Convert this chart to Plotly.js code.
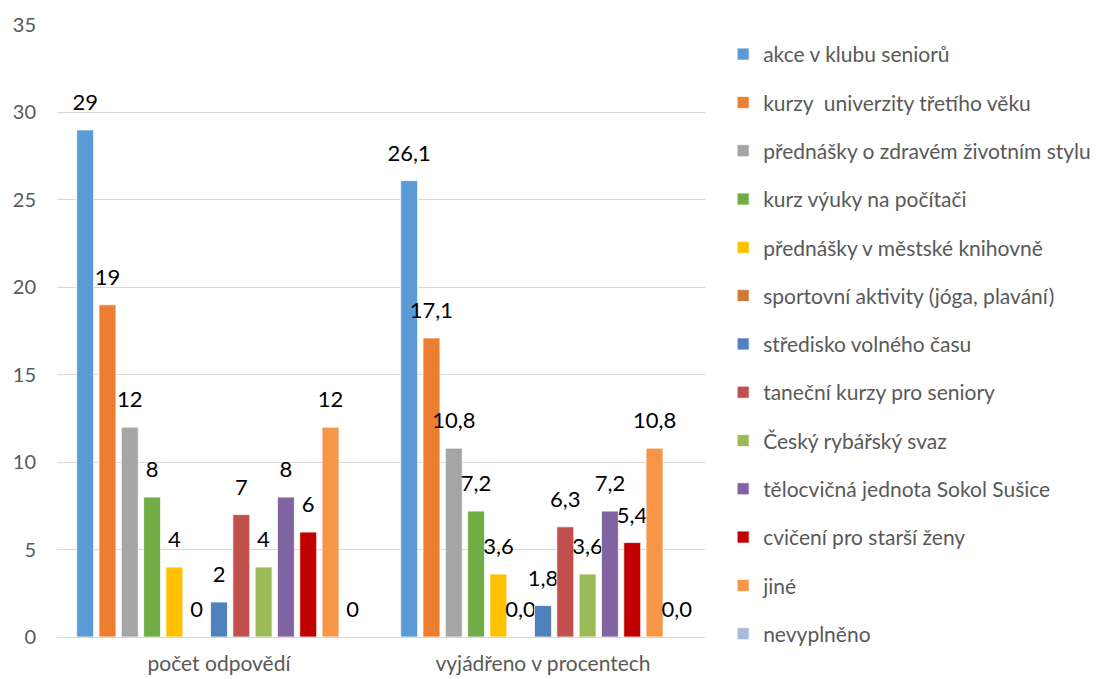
<!DOCTYPE html>
<html>
<head>
<meta charset="utf-8">
<script src="https://cdn.plot.ly/plotly-3.0.1.min.js"></script>
<style>html,body{margin:0;padding:0;background:#fff;} #chart{width:1112px;height:679px;}</style>
</head>
<body>
<div id="chart"></div>
<script>
const categories = ["počet odpovědí", "vyjádřeno v procentech"];
const seriesNames = [
  "akce v klubu seniorů",
  "kurzy  univerzity třetího věku",
  "přednášky o zdravém životním stylu",
  "kurz výuky na počítači",
  "přednášky v městské knihovně",
  "sportovní aktivity (jóga, plavání)",
  "středisko volného času",
  "taneční kurzy pro seniory",
  "Český rybářský svaz",
  "tělocvičná jednota Sokol Sušice",
  "cvičení pro starší ženy",
  "jiné",
  "nevyplněno"
];
const countValues = [29, 19, 12, 8, 4, 0, 2, 7, 4, 8, 6, 12, 0];
const percentValues = [26.1, 17.1, 10.8, 7.2, 3.6, 0.0, 1.8, 6.3, 3.6, 7.2, 5.4, 10.8, 0.0];
const colors = ["#5B9BD5", "#ED7D31", "#A5A5A5", "#70AD47", "#FFC000", "#CD7B3A",
  "#4F81BD", "#C0504D", "#9BBB59", "#8064A2", "#C00000", "#F79646", "#A9BADB"];
const yTicks = [0, 5, 10, 15, 20, 25, 30, 35];

const FONT = "Lato, 'Open Sans', sans-serif";
const traces = seriesNames.map((name, i) => ({
  type: "bar",
  name: name,
  x: categories,
  y: [countValues[i], percentValues[i]],
  text: [String(countValues[i]), percentValues[i].toFixed(1).replace(".", ",")],
  textposition: "outside",
  constraintext: "none",
  cliponaxis: false,
  textfont: {family: FONT, size: 22, color: "#000000"},
  marker: {color: colors[i], line: {color: "#ffffff", width: 0.75}},
  legendgroup: "g" + i,
  hoverinfo: "name+y"
}));

const layout = {
  width: 1112, height: 679,
  margin: {l: 57, r: 407, t: 25, b: 42, autoexpand: false},
  paper_bgcolor: "#ffffff", plot_bgcolor: "#ffffff",
  font: {family: FONT, size: 20, color: "#595959"},
  barmode: "group",
  bargap: 0.105,
  bargroupgap: 0.24,
  showlegend: true,
  legend: {
    x: 1.028, xanchor: "left",
    yref: "container", y: 0.95, yanchor: "top",
    maxheight: 1,
    traceorder: "grouped", tracegroupgap: 18,
    font: {family: FONT, size: 21, color: "#595959"},
    itemwidth: 30
  },
  xaxis: {
    type: "category",
    showgrid: false, showline: false, zeroline: false,
    ticks: "", ticklabelstandoff: 12,
    tickfont: {family: FONT, size: 21, color: "#595959"}
  },
  yaxis: {
    range: [0, 35], tickvals: yTicks, ticktext: yTicks.map(String),
    showgrid: true, gridcolor: "#D9D9D9", gridwidth: 1,
    zeroline: true, zerolinecolor: "#D9D9D9", zerolinewidth: 1,
    showline: false, ticks: "", ticklabelstandoff: 20,
    tickfont: {family: FONT, size: 20, color: "#595959"}
  }
};

Plotly.newPlot("chart", traces, layout, {displayModeBar: false, staticPlot: true}).then(gd => {
  // lift the outside data labels a little further above the bars, as in the reference
  gd.querySelectorAll(".barlayer .bartext").forEach(t => {
    const tr = t.getAttribute("transform") || "";
    t.setAttribute("transform", "translate(0,-12) " + tr);
  });
});
</script>
</body>
</html>
